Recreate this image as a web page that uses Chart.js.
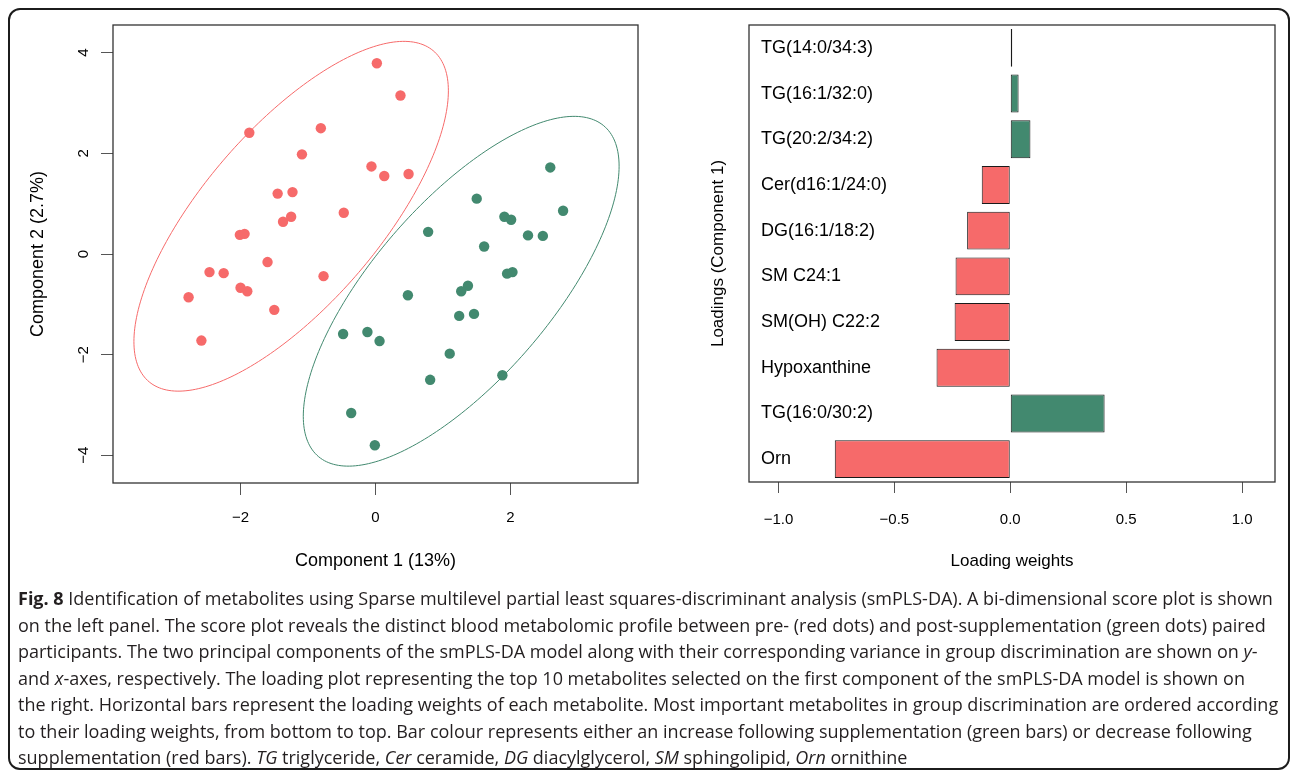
<!DOCTYPE html>
<html>
<head>
<meta charset="utf-8">
<script src="https://cdn.jsdelivr.net/npm/chart.js@4.4.1/dist/chart.umd.min.js"></script>
<style>
  html, body { margin: 0; padding: 0; background: #fff; }
  #page { position: relative; width: 1290px; height: 776px; overflow: hidden; background: #fff; }
  #frame {
    position: absolute; left: 8px; top: 8px; width: 1282px; height: 762px;
    box-sizing: border-box; border: 2px solid #1c1c1c; border-radius: 12px;
  }
  #scoreWrap { position: absolute; left: 0; top: 0; width: 660px; height: 590px; }
  #loadWrap { position: absolute; left: 660px; top: 0; width: 630px; height: 590px; }
  #caption {
    position: absolute; left: 18px; top: 585px;
    font-family: "Open Sans", "Noto Sans", sans-serif; font-size: 18px; line-height: 26.5px;
    color: #231f20; white-space: nowrap;
  }
  #caption b { font-weight: 700; }
</style>
</head>
<body>
<div id="page">
  <div id="frame"></div>
  <div id="scoreWrap"><canvas id="scoreChart" width="660" height="590"></canvas></div>
  <div id="loadWrap"><canvas id="loadChart" width="630" height="590"></canvas></div>
  <div id="caption">
    <div><b>Fig. 8</b> Identification of metabolites using Sparse multilevel partial least squares-discriminant analysis (smPLS-DA). A bi-dimensional score plot is shown</div>
    <div>on the left panel. The score plot reveals the distinct blood metabolomic profile between pre- (red dots) and post-supplementation (green dots) paired</div>
    <div>participants. The two principal components of the smPLS-DA model along with their corresponding variance in group discrimination are shown on <i>y</i>-</div>
    <div>and <i>x</i>-axes, respectively. The loading plot representing the top 10 metabolites selected on the first component of the smPLS-DA model is shown on</div>
    <div>the right. Horizontal bars represent the loading weights of each metabolite. Most important metabolites in group discrimination are ordered according</div>
    <div>to their loading weights, from bottom to top. Bar colour represents either an increase following supplementation (green bars) or decrease following</div>
    <div>supplementation (red bars). <i>TG</i> triglyceride, <i>Cer</i> ceramide, <i>DG</i> diacylglycerol, <i>SM</i> sphingolipid, <i>Orn</i> ornithine</div>
  </div>
</div>
<script>
// score plot data (component 1 / component 2)
const preComp1 = [0.02, 0.37, -1.87, -0.81, -1.09, -0.06, 0.13, 0.49, -1.45, -1.23, -0.47, -1.37,
                  -1.25, -2.01, -1.94, -1.60, -2.46, -2.25, -0.77, -2.00, -1.90, -2.77, -1.50, -2.58];
const preComp2 = [3.79, 3.15, 2.41, 2.50, 1.98, 1.74, 1.55, 1.59, 1.20, 1.23, 0.82, 0.64,
                  0.74, 0.38, 0.40, -0.16, -0.36, -0.38, -0.44, -0.67, -0.74, -0.86, -1.11, -1.72];
const postComp1 = [2.59, 1.50, 2.78, 1.91, 2.01, 0.78, 2.26, 2.48, 1.61, 1.95, 2.03, 1.37,
                   1.27, 0.48, 1.24, 1.46, -0.48, -0.12, 0.06, 1.10, 0.81, 1.88, -0.36, -0.01];
const postComp2 = [1.72, 1.10, 0.86, 0.74, 0.68, 0.44, 0.37, 0.36, 0.15, -0.39, -0.36, -0.63,
                   -0.74, -0.82, -1.23, -1.19, -1.59, -1.55, -1.73, -1.98, -2.50, -2.41, -3.16, -3.80];
// confidence ellipses: centre x, centre y, half width, half height, correlation
const preEllipse = [-1.25, 0.75, 2.33, 3.475, 0.717];
const postEllipse = [1.27, -0.74, 2.34, 3.475, 0.715];
const scoreXTicks = [-2, 0, 2];
const scoreYTicks = [-4, -2, 0, 2, 4];

// loading plot data
const metabolites = ['TG(14:0/34:3)', 'TG(16:1/32:0)', 'TG(20:2/34:2)', 'Cer(d16:1/24:0)', 'DG(16:1/18:2)',
                     'SM C24:1', 'SM(OH) C22:2', 'Hypoxanthine', 'TG(16:0/30:2)', 'Orn'];
const loadingWeights = [0.004, 0.036, 0.087, -0.123, -0.186, -0.236, -0.240, -0.318, 0.407, -0.757];
const loadingTicks = [-1, -0.5, 0, 0.5, 1];

const RED = '#F66A6A';
const GREEN = '#42896F';
const FONT = '"Liberation Sans", Arial, Helvetica, sans-serif';

Chart.defaults.font.family = FONT;
Chart.defaults.color = '#000';

const minus = (s) => s.replace('-', '\u2212');

const plotBox = {
    id: 'plotBox',
    afterDraw(chart) {
        const { ctx, chartArea: a } = chart;
        ctx.save();
        ctx.strokeStyle = '#333';
        ctx.lineWidth = 1.3;
        ctx.strokeRect(a.left, a.top, a.right - a.left, a.bottom - a.top);
        ctx.restore();
    }
};

const ellipses = {
    id: 'ellipses',
    beforeDatasetsDraw(chart) {
        const { ctx, scales: { x, y } } = chart;
        [[preEllipse, RED], [postEllipse, GREEN]].forEach(([e, col]) => {
            const [cx, cy, rx, ry, rho] = e;
            const phi = Math.acos(rho);
            ctx.save();
            ctx.strokeStyle = col;
            ctx.lineWidth = 1;
            ctx.beginPath();
            for (let i = 0; i <= 240; i++) {
                const t = i / 240 * Math.PI * 2;
                const px = x.getPixelForValue(cx + rx * Math.cos(t));
                const py = y.getPixelForValue(cy + ry * Math.cos(t - phi));
                if (i === 0) ctx.moveTo(px, py); else ctx.lineTo(px, py);
            }
            ctx.closePath();
            ctx.stroke();
            ctx.restore();
        });
    }
};

// R style y labels, rotated to run along the axis
const rotatedYTicks = {
    id: 'rotatedYTicks',
    afterDraw(chart) {
        const { ctx, scales: { y } } = chart;
        ctx.save();
        ctx.font = '15px ' + FONT;
        ctx.fillStyle = '#000';
        ctx.textAlign = 'center';
        ctx.textBaseline = 'middle';
        y.ticks.forEach(t => {
            ctx.save();
            ctx.translate(84, y.getPixelForValue(t.value));
            ctx.rotate(-Math.PI / 2);
            ctx.fillText(minus(String(t.value)), 0, 0);
            ctx.restore();
        });
        ctx.restore();
    }
};

new Chart(document.getElementById('scoreChart'), {
    type: 'scatter',
    data: {
        datasets: [{
            label: 'pre',
            data: preComp1.map((v, i) => ({ x: v, y: preComp2[i] })),
            backgroundColor: RED,
            borderWidth: 0,
            pointRadius: 5.2
        }, {
            label: 'post',
            data: postComp1.map((v, i) => ({ x: v, y: postComp2[i] })),
            backgroundColor: GREEN,
            borderWidth: 0,
            pointRadius: 5.2
        }]
    },
    options: {
        responsive: false,
        animation: false,
        layout: { padding: { top: 25, right: 22, left: 0, bottom: 0 } },
        plugins: { legend: { display: false }, tooltip: { enabled: false } },
        scales: {
            x: {
                type: 'linear',
                min: -3.89,
                max: 3.89,
                afterBuildTicks: (s) => { s.ticks = scoreXTicks.map(v => ({ value: v })); },
                afterFit: (s) => { s.height = 107; },
                ticks: { font: { size: 15 }, padding: 14, callback: (v) => minus(String(v)) },
                grid: { drawOnChartArea: false, tickLength: 12, color: '#555' },
                border: { display: false },
                title: { display: true, text: 'Component 1 (13%)', font: { size: 18 }, padding: { top: 0, bottom: 18 } }
            },
            y: {
                type: 'linear',
                min: -4.55,
                max: 4.55,
                afterBuildTicks: (s) => { s.ticks = scoreYTicks.map(v => ({ value: v })); },
                afterFit: (s) => { s.width = 113; },
                ticks: { display: false },
                grid: { drawOnChartArea: false, tickLength: 12, color: '#555' },
                border: { display: false },
                title: { display: true, text: 'Component 2 (2.7%)', font: { size: 18 }, padding: { top: 27, bottom: 0 } }
            }
        }
    },
    plugins: [ellipses, plotBox, rotatedYTicks]
});

new Chart(document.getElementById('loadChart'), {
    type: 'bar',
    data: {
        labels: metabolites,
        datasets: [{
            data: loadingWeights,
            backgroundColor: loadingWeights.map(v => v > 0 ? GREEN : RED),
            borderColor: '#1a1a1a',
            borderWidth: 1,
            borderSkipped: false,
            minBarLength: 2,
            barPercentage: 0.83,
            categoryPercentage: 1
        }]
    },
    options: {
        indexAxis: 'y',
        responsive: false,
        animation: false,
        layout: { padding: { top: 25, right: 15, left: 0, bottom: 0 } },
        plugins: { legend: { display: false }, tooltip: { enabled: false } },
        scales: {
            x: {
                type: 'linear',
                min: -1.127,
                max: 1.142,
                afterBuildTicks: (s) => { s.ticks = loadingTicks.map(v => ({ value: v })); },
                afterFit: (s) => { s.height = 108; },
                ticks: { font: { size: 15 }, padding: 18, callback: (v) => minus(v.toFixed(1)) },
                grid: { drawOnChartArea: false, tickLength: 11, color: '#555' },
                border: { display: false },
                title: { display: true, text: 'Loading weights', font: { size: 17 }, padding: { top: 0, bottom: 18 } }
            },
            y: {
                type: 'category',
                offset: true,
                afterFit: (s) => { s.width = 89; },
                ticks: { mirror: true, padding: 12, font: { size: 18 }, color: '#000' },
                grid: { display: false },
                border: { display: false },
                title: { display: true, text: 'Loadings (Component 1)', font: { size: 17 }, padding: { top: 48, bottom: 0 } }
            }
        }
    },
    plugins: [plotBox]
});
</script>
</body>
</html>
